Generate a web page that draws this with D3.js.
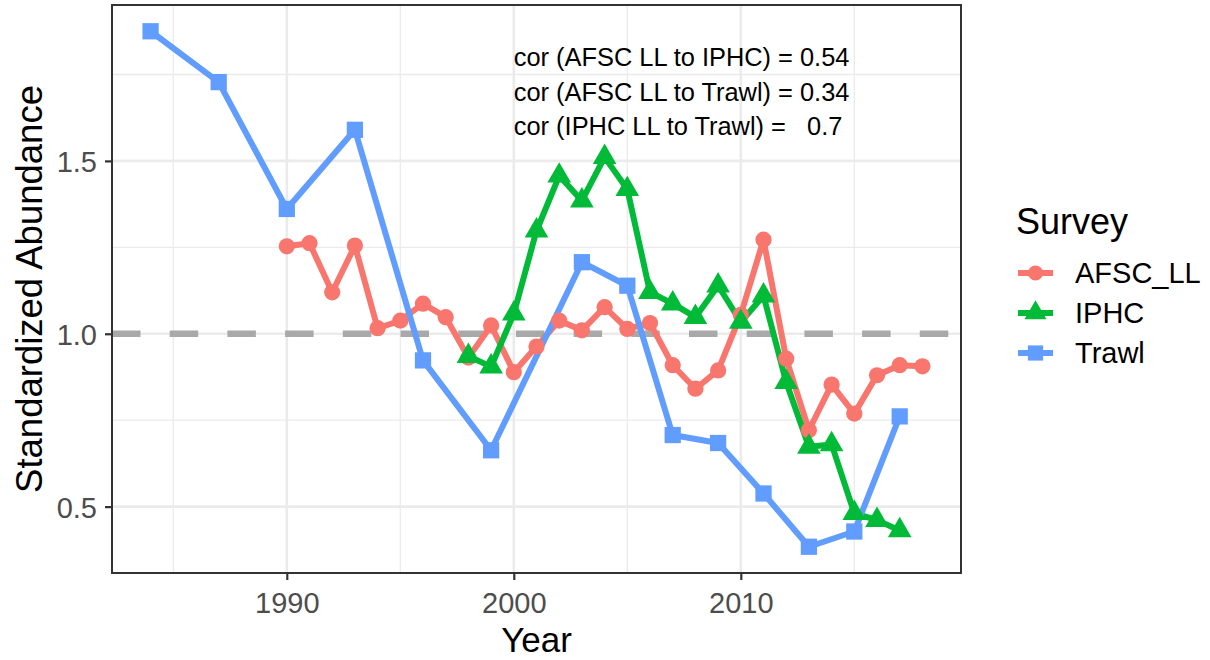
<!DOCTYPE html>
<html>
<head>
<meta charset="utf-8">
<script src="https://cdn.jsdelivr.net/npm/d3@7"></script>
<style>
  html, body { margin: 0; padding: 0; background: #fff; }
  svg { display: block; font-family: "Liberation Sans", Arial, sans-serif; }
</style>
</head>
<body>
<svg id="chart" width="1210" height="660"></svg>
<script>
// ---- data ----
const afscYears = [1990,1991,1992,1993,1994,1995,1996,1997,1998,1999,2000,2001,2002,2003,2004,2005,2006,2007,2008,2009,2010,2011,2012,2013,2014,2015,2016,2017,2018];
const afscValues = [1.253,1.262,1.120,1.255,1.016,1.038,1.087,1.048,0.931,1.024,0.889,0.963,1.038,1.010,1.077,1.014,1.031,0.909,0.841,0.894,1.055,1.272,0.928,0.721,0.853,0.769,0.880,0.909,0.906];

const iphcYears = [1998,1999,2000,2001,2002,2003,2004,2005,2006,2007,2008,2009,2010,2011,2012,2013,2014,2015,2016,2017];
const iphcValues = [0.935,0.905,1.058,1.298,1.457,1.385,1.511,1.418,1.120,1.087,1.048,1.139,1.034,1.110,0.860,0.673,0.680,0.481,0.461,0.431];

const trawlYears = [1984,1987,1990,1993,1996,1999,2003,2005,2007,2009,2011,2013,2015,2017];
const trawlValues = [1.875,1.728,1.361,1.590,0.923,0.663,1.207,1.139,0.707,0.684,0.538,0.384,0.428,0.761];

const seriesNames = ["AFSC_LL", "IPHC", "Trawl"];
const seriesColors = ["#F8766D", "#00BA38", "#619CFF"];
const seriesShapes = ["circle", "triangle", "square"];

const xTicks = [1990, 2000, 2010];
const xMinorTicks = [1985, 1995, 2005, 2015];
const yTicks = [0.5, 1.0, 1.5];
const yMinorTicks = [0.75, 1.25, 1.75];
const referenceLevel = 1.0;

const annotationLines = [
  "cor (AFSC LL to IPHC) = 0.54",
  "cor (AFSC LL to Trawl) = 0.34",
  "cor (IPHC LL to Trawl) =   0.7"
];

const xTitle = "Year";
const yTitle = "Standardized Abundance";
const legendTitle = "Survey";

// ---- layout ----
const panel = { left: 112, right: 961, top: 5, bottom: 573 };
const svg = d3.select("#chart");

const x = d3.scaleLinear().domain([1982.3, 2019.7]).range([panel.left, panel.right]);
const y = d3.scaleLinear().domain([0.308, 1.951]).range([panel.bottom, panel.top]);

const series = [
  { name: seriesNames[0], color: seriesColors[0], shape: seriesShapes[0], pts: afscYears.map((d, i) => ({ x: d, y: afscValues[i] })) },
  { name: seriesNames[1], color: seriesColors[1], shape: seriesShapes[1], pts: iphcYears.map((d, i) => ({ x: d, y: iphcValues[i] })) },
  { name: seriesNames[2], color: seriesColors[2], shape: seriesShapes[2], pts: trawlYears.map((d, i) => ({ x: d, y: trawlValues[i] })) }
];

// panel background
svg.append("rect").attr("x", panel.left).attr("y", panel.top)
  .attr("width", panel.right - panel.left).attr("height", panel.bottom - panel.top)
  .attr("fill", "#fff");

const grid = svg.append("g");
// minor grid
grid.selectAll(".xminor").data(xMinorTicks).join("line")
  .attr("x1", d => x(d)).attr("x2", d => x(d)).attr("y1", panel.top).attr("y2", panel.bottom)
  .attr("stroke", "#EBEBEB").attr("stroke-width", 1.3);
grid.selectAll(".yminor").data(yMinorTicks).join("line")
  .attr("y1", d => y(d)).attr("y2", d => y(d)).attr("x1", panel.left).attr("x2", panel.right)
  .attr("stroke", "#EBEBEB").attr("stroke-width", 1.3);
// major grid
grid.selectAll(".xmajor").data(xTicks).join("line")
  .attr("x1", d => x(d)).attr("x2", d => x(d)).attr("y1", panel.top).attr("y2", panel.bottom)
  .attr("stroke", "#EBEBEB").attr("stroke-width", 2.6);
grid.selectAll(".ymajor").data(yTicks).join("line")
  .attr("y1", d => y(d)).attr("y2", d => y(d)).attr("x1", panel.left).attr("x2", panel.right)
  .attr("stroke", "#EBEBEB").attr("stroke-width", 2.6);

// reference dashed line
svg.append("line")
  .attr("x1", panel.left).attr("x2", panel.right)
  .attr("y1", y(referenceLevel)).attr("y2", y(referenceLevel))
  .attr("stroke", "#A9A9A9").attr("stroke-width", 6.5)
  .attr("stroke-dasharray", "28.5,29.2");

// lines
const line = d3.line().x(d => x(d.x)).y(d => y(d.y));
const plotG = svg.append("g");
series.forEach(s => {
  plotG.append("path").datum(s.pts).attr("d", line)
    .attr("fill", "none").attr("stroke", s.color).attr("stroke-width", 6)
    .attr("stroke-linejoin", "round").attr("stroke-linecap", "butt");
});

function symbolPath(shape, size) {
  if (shape === "circle") return d3.symbol().type(d3.symbolCircle).size(size * 0.9)();
  if (shape === "square") return d3.symbol().type(d3.symbolSquare).size(size * 1.15)();
  return d3.symbol().type(d3.symbolTriangle).size(size * 1.05)();
}

series.forEach(s => {
  plotG.selectAll(null).data(s.pts).join("path")
    .attr("transform", d => `translate(${x(d.x)},${y(d.y)})`)
    .attr("d", symbolPath(s.shape, 230))
    .attr("fill", s.color);
});

// panel border
svg.append("rect").attr("x", panel.left).attr("y", panel.top)
  .attr("width", panel.right - panel.left).attr("height", panel.bottom - panel.top)
  .attr("fill", "none").attr("stroke", "#333333").attr("stroke-width", 2);

// axes
const xAxis = d3.axisBottom(x).tickValues(xTicks).tickFormat(d3.format("d")).tickSize(7).tickPadding(6);
const gx = svg.append("g").attr("transform", `translate(0,${panel.bottom})`).call(xAxis);
gx.select(".domain").remove();
gx.selectAll(".tick line").attr("stroke", "#333333").attr("stroke-width", 2.2);
gx.selectAll(".tick text").attr("fill", "#4D4D4D").attr("font-size", 29)
  .attr("font-family", "Liberation Sans, Arial, sans-serif").attr("dy", null).attr("y", 40);

const yAxis = d3.axisLeft(y).tickValues(yTicks).tickFormat(d3.format(".1f")).tickSize(7).tickPadding(6);
const gy = svg.append("g").attr("transform", `translate(${panel.left},0)`).call(yAxis);
gy.select(".domain").remove();
gy.selectAll(".tick line").attr("stroke", "#333333").attr("stroke-width", 2.2);
gy.selectAll(".tick text").attr("fill", "#4D4D4D").attr("font-size", 29)
  .attr("font-family", "Liberation Sans, Arial, sans-serif").attr("x", -15).attr("dy", "0.36em");

// axis titles
svg.append("text").attr("x", (panel.left + panel.right) / 2).attr("y", 652)
  .attr("text-anchor", "middle").attr("font-size", 35).attr("fill", "#000").text(xTitle);
svg.append("text").attr("transform", `translate(42,${(panel.top + panel.bottom) / 2}) rotate(-90)`)
  .attr("text-anchor", "middle").attr("font-size", 36.5).attr("fill", "#000").text(yTitle);

// annotation
const ann = svg.append("g");
annotationLines.forEach((t, i) => {
  ann.append("text").attr("x", x(2000)).attr("y", 66 + i * 34.5)
    .attr("font-size", 25.4).attr("fill", "#000")
    .style("white-space", "pre").attr("xml:space", "preserve").text(t);
});

// legend
const lg = svg.append("g");
lg.append("text").attr("x", 1016).attr("y", 234).attr("font-size", 36).attr("fill", "#000").text(legendTitle);
series.forEach((s, i) => {
  const cy = 273 + i * 40;
  lg.append("line").attr("x1", 1018).attr("x2", 1053).attr("y1", cy).attr("y2", cy)
    .attr("stroke", s.color).attr("stroke-width", 6);
  lg.append("path").attr("transform", `translate(${1035.5},${cy})`)
    .attr("d", symbolPath(s.shape, 200)).attr("fill", s.color);
  lg.append("text").attr("x", 1075).attr("y", cy).attr("dy", "0.36em")
    .attr("font-size", 29).attr("fill", "#000").text(s.name);
});
</script>
</body>
</html>
